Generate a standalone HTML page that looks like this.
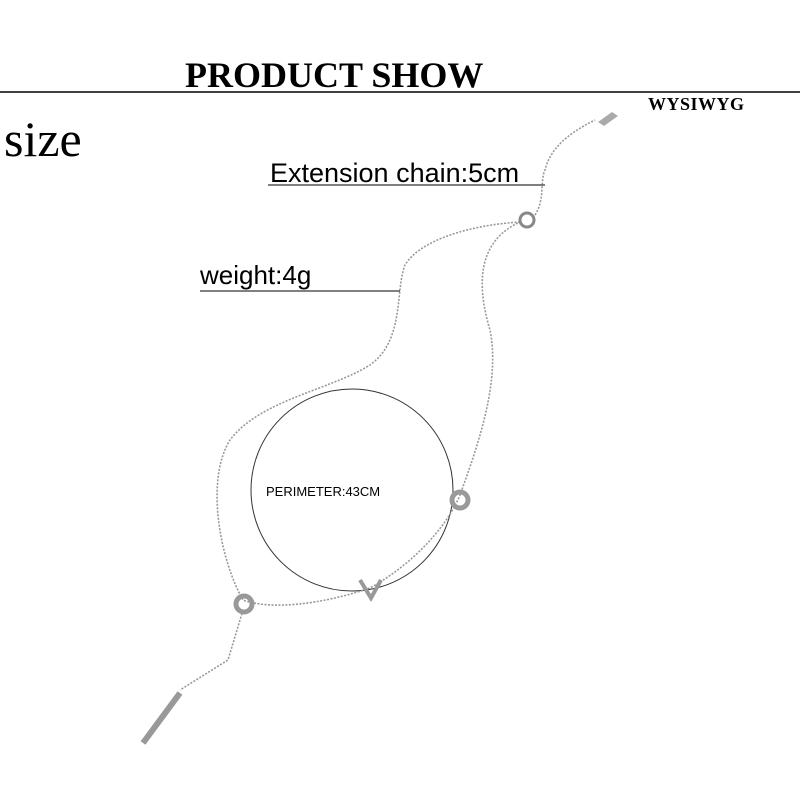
<!DOCTYPE html>
<html><head><style>
body{margin:0;width:800px;height:800px;background:#fff;overflow:hidden;position:relative}
.t{position:absolute;white-space:nowrap;line-height:1}
</style></head><body>
<div class="t" style="left:185px;top:54px;font:900 36px 'Liberation Serif',serif">PRODUCT SHOW</div>
<div class="t" style="left:648px;top:94px;font:900 18px 'Liberation Serif',serif;letter-spacing:0.5px">WYSIWYG</div>
<div class="t" style="left:4px;top:110px;font:50px 'Liberation Serif',serif">size</div>
<div class="t" style="left:270px;top:158px;font:27px 'Liberation Sans',sans-serif">Extension chain:5cm</div>
<div class="t" style="left:200px;top:260px;font:26px 'Liberation Sans',sans-serif">weight:4g</div>
<div class="t" style="left:266px;top:484px;font:13px 'Liberation Sans',sans-serif">PERIMETER:43CM</div>
<svg width="800" height="800" style="position:absolute;left:0;top:0">
<line x1="0" y1="92" x2="800" y2="92" stroke="#000" stroke-width="1.5"/>
<line x1="268" y1="185" x2="545" y2="185" stroke="#000"/>
<line x1="200" y1="291" x2="400" y2="291" stroke="#000"/>
<circle cx="352" cy="490" r="101" fill="none" stroke="#333" stroke-width="1"/>
<g fill="none" stroke="#999" stroke-width="1.6" stroke-dasharray="2 1.5">
<path d="M520 222 C470 225 420 240 405 265 C395 290 405 340 370 365 C330 390 260 400 230 440 C205 480 220 560 243 600 C270 610 320 605 370 588 C420 560 450 520 460 495 C480 440 500 380 490 330 C475 280 480 240 520 222"/>
<path d="M535 215 C545 200 540 180 545 170 C550 150 565 135 595 120"/>
<path d="M243 610 L228 660 L180 690"/>
</g>
<circle cx="527" cy="220" r="7" fill="none" stroke="#888" stroke-width="3"/>
<path d="M598 122 L612 112 L618 116 L604 126Z" fill="#aaa"/>
<circle cx="244" cy="604" r="8" fill="none" stroke="#999" stroke-width="5"/>
<circle cx="460" cy="500" r="8" fill="none" stroke="#999" stroke-width="5"/>
<path d="M360 580 L371 598 L381 580" fill="none" stroke="#999" stroke-width="4"/>
<line x1="180" y1="693" x2="143" y2="743" stroke="#999" stroke-width="6"/>
</svg>
</body></html>
